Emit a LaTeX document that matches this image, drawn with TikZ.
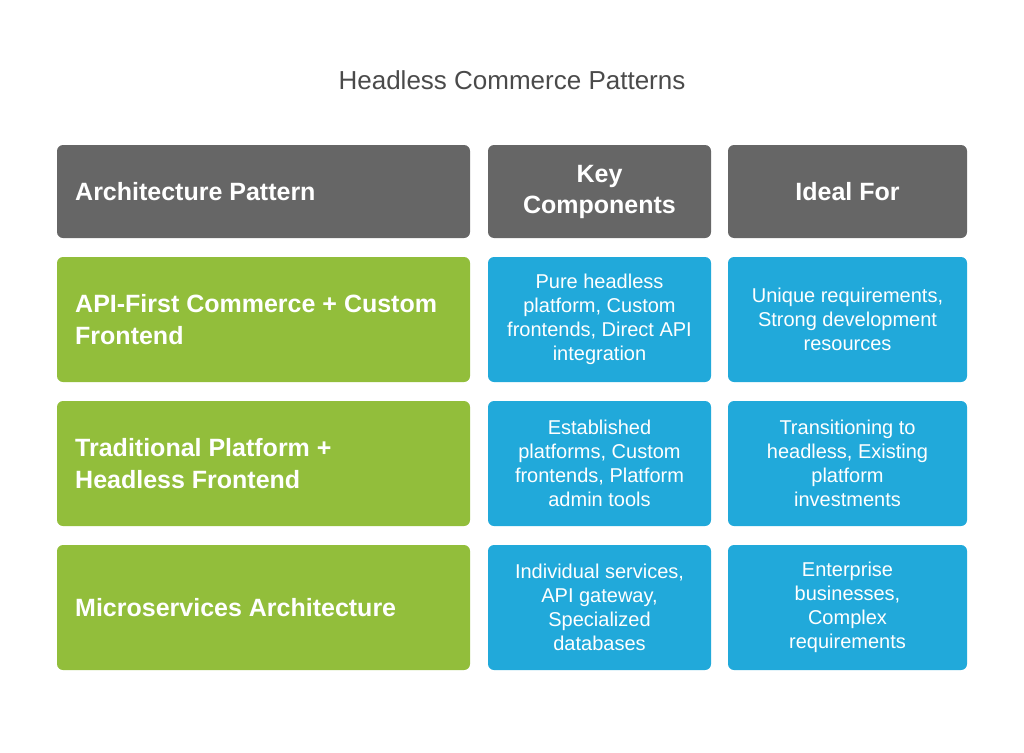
\documentclass[tikz,border=0pt]{standalone}
\usepackage{fontspec}
\setmainfont{Liberation Sans}
\definecolor{hdr}{HTML}{666666}
\definecolor{grn}{HTML}{92BE3B}
\definecolor{blu}{HTML}{21A9DA}
\definecolor{ttl}{HTML}{4A4A4A}
\begin{document}
\begin{tikzpicture}[x=1pt,y=-1pt,
  cell/.style={rounded corners=6pt},
  lefttxt/.style={anchor=west,align=left,inner sep=0pt,text=white,font=\fontsize{25}{32}\selectfont\bfseries},
  midtxt/.style={anchor=center,align=center,text=white,font=\fontsize{20}{24}\selectfont},
  hdtxt/.style={anchor=center,align=center,text=white,font=\fontsize{25}{31}\selectfont\bfseries}]
\useasboundingbox (0,0) rectangle (1024,752);
\node[text=ttl,font=\fontsize{26}{30}\selectfont] (title) at (512,80) {Headless Commerce Patterns};
% header
\fill[hdr,cell] (57,145) rectangle (470,238);
\fill[hdr,cell] (488,145) rectangle (711,238);
\fill[hdr,cell] (728,145) rectangle (967,238);
\node[lefttxt] (h1) at (75,192) {Architecture Pattern};
\node[hdtxt] (h2) at (599.5,192) {Key\\Components};
\node[hdtxt] (h3) at (847.5,192) {Ideal For};
% rows
\foreach \y/\n in {257/1,401/2,545/3}{
  \fill[grn,cell] (57,\y) rectangle (470,\y+125);
  \fill[blu,cell] (488,\y) rectangle (711,\y+125);
  \fill[blu,cell] (728,\y) rectangle (967,\y+125);
}
\node[lefttxt] (a1) at (75,319.5) {API-First Commerce + Custom\\Frontend};
\node[midtxt] (b1) at (599.5,319.5) {Pure headless\\platform, Custom\\frontends, Direct API\\integration};
\node[midtxt] (c1) at (847.5,319.5) {Unique requirements,\\Strong development\\resources};
\node[lefttxt] (a2) at (75,463.5) {Traditional Platform +\\Headless Frontend};
\node[midtxt] (b2) at (599.5,463.5) {Established\\platforms, Custom\\frontends, Platform\\admin tools};
\node[midtxt] (c2) at (847.5,463.5) {Transitioning to\\headless, Existing\\platform\\investments};
\node[lefttxt] (a3) at (75,607.5) {Microservices Architecture};
\node[midtxt] (b3) at (599.5,607.5) {Individual services,\\API gateway,\\Specialized\\databases};
\node[midtxt] (c3) at (847.5,607.5) {Enterprise\\businesses,\\Complex\\requirements};
\end{tikzpicture}
\end{document}
